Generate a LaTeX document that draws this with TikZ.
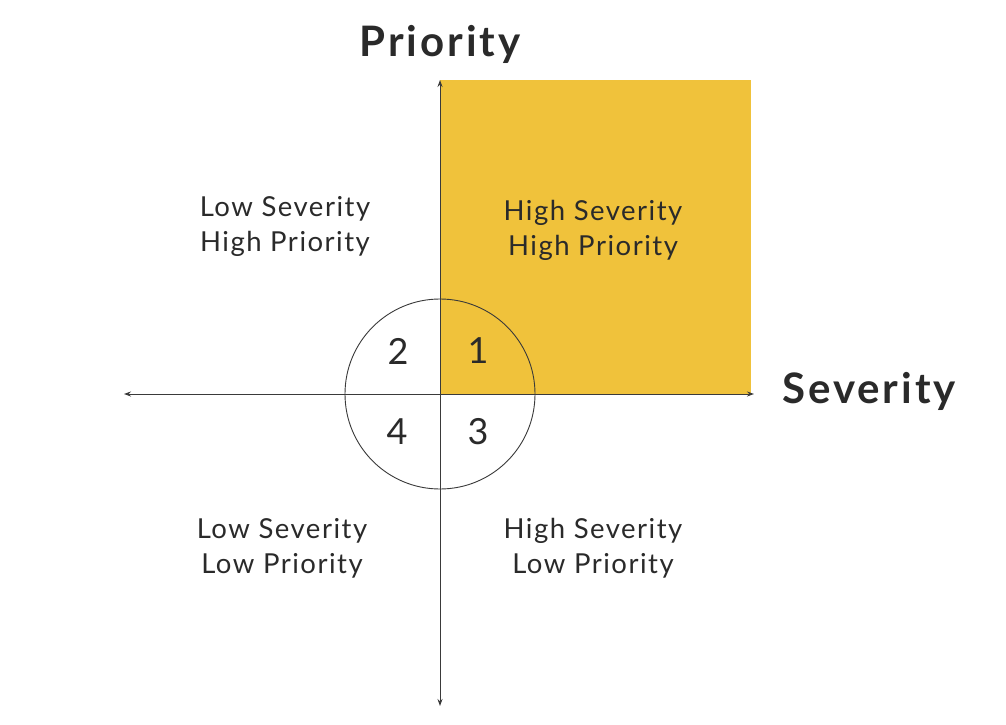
\documentclass[tikz,border=0pt]{standalone}
\usepackage{fontspec}
\setmainfont{Lato}
\newfontfamily\labelfont[LetterSpace=5.5]{Lato}
\newfontfamily\titlefont[LetterSpace=7]{Lato}
\usetikzlibrary{arrows.meta}
\definecolor{quadyellow}{HTML}{F0C23B}
\definecolor{axisgray}{HTML}{3A3A3A}
\definecolor{textgray}{HTML}{2A2A2A}
\tikzset{
  axis/.style={draw=axisgray, line width=0.9pt, -{Stealth[length=7pt,width=5pt]}},
  quadlabel/.style={align=center, font=\labelfont\fontsize{27.5}{35}\selectfont, text=textgray, inner sep=0pt},
  numlabel/.style={font=\fontsize{36}{40}\selectfont, text=textgray, inner sep=0pt},
  axistitle/.style={font=\titlefont\fontsize{42}{46}\selectfont\bfseries, text=textgray, inner sep=0pt},
}
\begin{document}
\begin{tikzpicture}[x=1pt,y=-1pt]
\useasboundingbox (0,0) rectangle (1006,725);
\fill[white] (0,0) rectangle (1006,725);
\fill[quadyellow] (440,80) rectangle (751,394);
\coordinate (O) at (440,394);
\coordinate (top) at (440,80);
\coordinate (bottom) at (440,706);
\coordinate (left) at (124,394);
\coordinate (right) at (754,394);
\draw[axis] (O) -- (top);
\draw[axis] (O) -- (bottom);
\draw[axis] (O) -- (left);
\draw[axis] (O) -- (right);
\draw[axisgray, line width=0.9pt] (O) circle[radius=95];
\node[numlabel] (n2) at (398,351) {2};
\node[numlabel] (n1) at (478,351) {1};
\node[numlabel] (n4) at (397,432) {4};
\node[numlabel] (n3) at (478,432) {3};
\node[quadlabel] (lshp) at (285,226) {Low Severity\\High Priority};
\node[quadlabel] (hshp) at (593,230) {High Severity\\High Priority};
\node[quadlabel] (lslp) at (282,548) {Low Severity\\Low Priority};
\node[quadlabel] (hslp) at (593,548) {High Severity\\Low Priority};
\node[axistitle] (prio) at (440,44) {Priority};
\node[axistitle] (sev) at (869,391) {Severity};
\end{tikzpicture}
\end{document}
